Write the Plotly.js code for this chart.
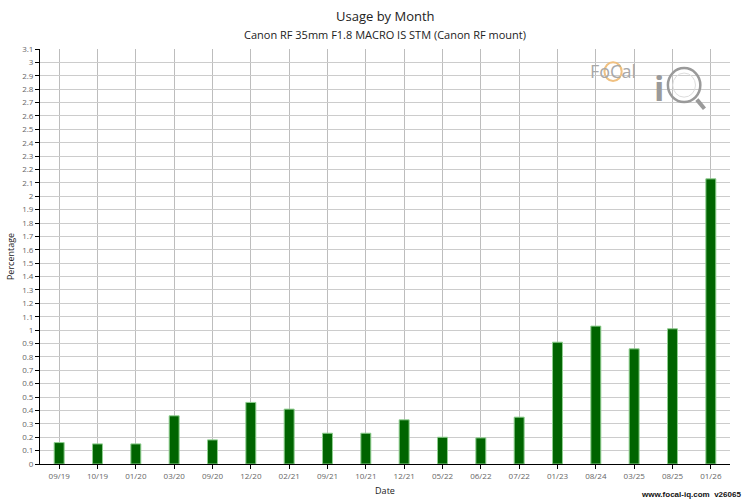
<!DOCTYPE html>
<html><head><meta charset="utf-8">
<script src="https://cdn.plot.ly/plotly-3.0.1.min.js"></script>
<style>html,body{margin:0;padding:0;background:#fff}#c{width:750px;height:500px}</style>
</head><body><div id="c"></div>
<script>
var months = ["09/19","10/19","01/20","03/20","09/20","12/20","02/21","09/21","10/21","12/21","05/22","06/22","07/22","01/23","08/24","03/25","08/25","01/26"];
var percentage = [0.16,0.15,0.15,0.36,0.18,0.46,0.41,0.23,0.23,0.33,0.20,0.195,0.35,0.91,1.03,0.86,1.01,2.13];
var yTickVals = [];
for (var i = 0; i <= 31; i++) yTickVals.push(+(i/10).toFixed(1));
var yTickText = yTickVals.map(function(v){return String(v);});

var trace = {
  type: "bar", x: months, y: percentage, width: 0.26,
  marker: {color: "#006400", line: {color: "#8fcf8f", width: 1}},
  hoverinfo: "x+y"
};
var layout = {
  width: 750, height: 500,
  margin: {l: 40, r: 20, t: 49, b: 36},
  paper_bgcolor: "#fff", plot_bgcolor: "#fff",
  font: {family: "Open Sans, sans-serif", color: "#444"},
  showlegend: false,
  xaxis: {
    type: "category", range: [-0.5, 17.5], showline: true, linecolor: "#000", linewidth: 1,
    ticks: "outside", ticklen: 4, tickcolor: "#000", showgrid: true, gridcolor: "#bdbdbd",
    tickfont: {size: 8, color: "#666"}, fixedrange: true,
    title: {text: "Date", font: {size: 9, color: "#222"}, standoff: 8}
  },
  yaxis: {
    range: [0, 3.1], tickvals: yTickVals, ticktext: yTickText, showline: true, linecolor: "#000", linewidth: 1,
    ticks: "outside", ticklen: 4, tickcolor: "#000", showgrid: true, gridcolor: "#cccccc", zeroline: false,
    tickfont: {size: 8, color: "#666"}, fixedrange: true,
    title: {text: "Percentage", font: {size: 9, color: "#222"}, standoff: 6}
  },
  annotations: [
    {text: "Usage by Month", xref: "paper", yref: "paper", x: 0.5, y: 1, yshift: 33, showarrow: false, font: {size: 13, color: "#222"}, xanchor: "center", yanchor: "middle"},
    {text: "Canon RF 35mm F1.8 MACRO IS STM (Canon RF mount)", xref: "paper", yref: "paper", x: 0.5, y: 1, yshift: 15, showarrow: false, font: {size: 11, color: "#222"}, xanchor: "center", yanchor: "middle"},
    {text: "<b>www.focal-iq.com  v26065</b>", xref: "paper", yref: "paper", x: 1, xshift: 13, y: 0, yshift: -30, showarrow: false, font: {size: 8, color: "#111", family: "Liberation Sans, Arial, sans-serif"}, xanchor: "right", yanchor: "middle"},
    {text: "FoCal", xref: "paper", yref: "paper", x: 0.794, y: 0.947, showarrow: false, font: {size: 18, color: "#a8a8a8"}, xanchor: "left", yanchor: "middle"},
    {text: "<b>i</b>", xref: "paper", yref: "paper", x: 0.897, y: 0.906, showarrow: false, font: {size: 34, color: "#9a9a9a"}, xanchor: "center", yanchor: "middle"}
  ],
  shapes: [
    {type: "circle", xref: "paper", yref: "paper", x0: 0.818, x1: 0.843, y0: 0.923, y1: 0.968, line: {color: "#f0c080", width: 2}},
    {type: "circle", xref: "paper", yref: "paper", x0: 0.910, x1: 0.957, y0: 0.872, y1: 0.954, line: {color: "#9a9a9a", width: 2.5}},
    {type: "circle", xref: "paper", yref: "paper", x0: 0.917, x1: 0.950, y0: 0.884, y1: 0.942, line: {color: "#dddddd", width: 1}},
    {type: "line", xref: "paper", yref: "paper", x0: 0.952, x1: 0.963, y0: 0.878, y1: 0.856, line: {color: "#9a9a9a", width: 4}}
  ]
};
Plotly.newPlot("c", [trace], layout, {displayModeBar: false, staticPlot: true});
</script></body></html>
